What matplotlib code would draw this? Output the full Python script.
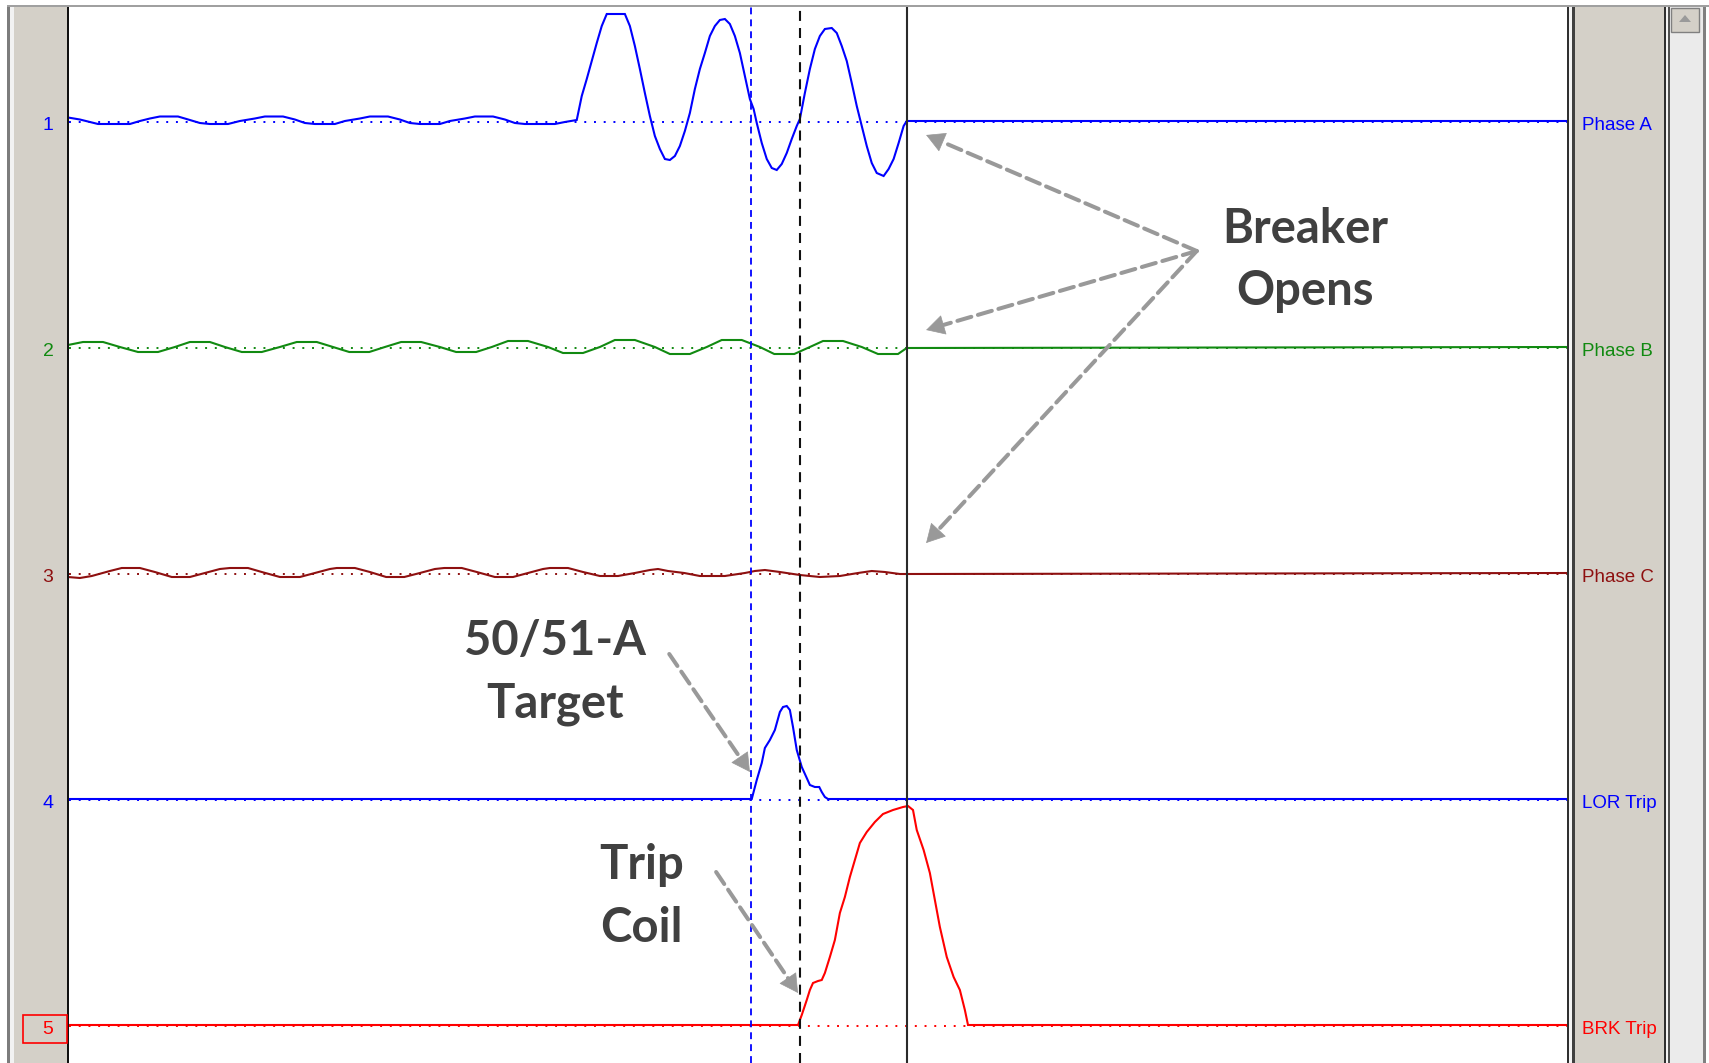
import matplotlib
matplotlib.use('Agg')
import matplotlib.pyplot as plt
from matplotlib.patches import Rectangle, Polygon
from matplotlib.transforms import blended_transform_factory

# time in ms, deflection in screen units (1 unit = 1 px of the record)
phase_a_t = [0, 1.9, 4.8, 7.4, 9.9, 11.5, 13.1, 14.7, 17.6, 19.5,
             21.1, 22.7, 25.6, 27.5, 29.9, 31.5, 34.4, 36.3, 37.9, 39.5,
             42.7, 44.3, 46.7, 48.3, 51.2, 53.1, 54.7, 56.3, 59.5, 61.1,
             63.5, 65.1, 68.0, 69.9, 71.5, 73.1, 77.9, 79.5, 81.4,
             82.2, 83.0, 83.8, 84.6, 85.4, 86.2, 89.1, 89.9, 90.7, 91.5,
             92.3, 93.1, 93.9, 94.7, 95.5, 96.3, 97.1, 97.9, 98.7, 99.5,
             100.3, 101.1, 101.9, 102.7, 103.5, 104.3, 105.1, 105.9, 106.7, 107.5,
             108.3, 109.1, 109.7, 110.2, 111.0, 111.8, 112.6, 113.4, 114.2, 115.0,
             115.8, 116.6, 117.1, 117.9, 118.7, 119.5, 120.3, 121.1, 122.2, 123.0,
             123.8, 124.6, 125.4, 126.2, 127.0, 127.8, 128.6, 129.4, 130.5, 131.3,
             132.1, 132.9, 133.7, 134.2, 240]
phase_a_v = [4.5, 2.5, -2, -2, -2, 1, 3.5, 5.5, 5.5, 2,
             -1, -2, -2, 1, 3.5, 5.5, 5.5, 2.5, -1, -2,
             -2, 1, 3.5, 5.5, 5.5, 2.5, -1, -2, -2, 1,
             3.5, 5.5, 5.5, 2.5, -1, -2, -2, 0, 2,
             26, 43, 61, 79, 96, 108, 108, 96, 76, 53,
             29, 6, -14, -27, -37, -38, -34, -24, -9, 9,
             33, 53, 69, 86, 96, 102, 103, 98, 86, 69,
             46, 23, 13, -1, -21, -37, -46, -48, -42, -31,
             -17, -4, 3, 29, 53, 73, 86, 93, 94, 89,
             76, 61, 39, 16, -4, -24, -41, -51, -54, -47,
             -37, -21, -4, 1, 1]

phase_b_t = [0, 2.4, 5.6, 8.3, 11.2, 14.4, 17.1, 19.5, 22.7, 25.1,
             27.8, 31.0, 33.9, 36.6, 39.8, 42.4, 45.0, 48.2, 50.7, 53.3,
             56.5, 59.5, 62.1, 65.3, 67.8, 70.4, 73.6, 76.8, 79.2, 82.4,
             85.1, 87.5, 90.7, 93.9, 96.3, 99.5, 102.2, 104.6, 107.8, 110.7,
             113.0, 116.2, 118.7, 120.8, 124.0, 127.0, 129.6, 132.8, 134.2, 240]
phase_b_v = [3, 6, 6, 1, -4, -4, 1, 6, 6, 1,
             -4, -4, 1, 6, 6, 1, -4, -4, 1, 6,
             6, 1, -4, -4, 1, 7, 7, 1, -5, -5,
             1, 8, 8, 1, -6, -6, 1, 8, 8, 1,
             -6, -6, 1, 7, 7, 1, -6, -6, 0, 1]

phase_c_t = [0, 1.9, 3.8, 6.7, 8.6, 11.5, 13.9, 16.6, 19.5, 21.9,
             24.3, 25.9, 28.8, 31.0, 33.9, 37.1, 39.5, 41.9, 43.0, 45.9,
             48.3, 50.9, 53.8, 56.3, 58.7, 60.2, 63.0, 65.4, 68.3, 71.2,
             73.6, 76.0, 77.1, 80.0, 82.4, 85.1, 88.0, 90.7, 93.1, 94.4,
             96.0, 98.6, 101.1, 105.1, 108.3, 109.9, 111.5, 113.9, 117.1, 120.3,
             123.5, 126.4, 128.6, 130.7, 133.1, 134.2, 240]
phase_c_v = [-3, -4, -2, 3, 6, 6, 2, -3, -3, 1,
             5, 6, 6, 2, -3, -3, 1, 5, 6, 6,
             2, -3, -3, 1, 5, 6, 6, 2, -3, -3,
             1, 5, 6, 6, 2, -2, -2, 1, 4, 5,
             3, 1, -2, -2, 1, 3, 4, 2, -1, -3,
             -2, 1, 3, 2, 0, 0, 1]

lor_t = [0, 109.4, 110.2, 111.0, 111.5, 112.3, 113.1, 113.9, 114.4, 115.0,
         115.5, 116.0, 116.6, 117.4, 118.2, 118.7, 119.5, 120.2, 120.6, 121.1,
         121.6, 240]
lor_v = [1, 1, 20, 37, 52, 60, 70, 88, 93, 94,
         90, 73, 50, 33, 22, 15, 13, 13, 8, 3,
         1, 1]

brk_t = [0, 116.8, 117.4, 118.2, 118.7, 119.2, 120.0, 120.6, 121.1, 121.9,
         122.7, 123.5, 124.3, 125.1, 125.9, 126.7, 127.8, 129.1, 130.4, 132.0,
         133.6, 134.4, 135.2, 135.8, 136.9, 137.9, 138.7, 139.5, 140.6, 141.7,
         142.7, 143.5, 144.0, 240]
brk_v = [1, 1, 11, 26, 36, 43, 45, 46, 53, 69,
         86, 113, 129, 149, 166, 183, 194, 204, 212, 216,
         219, 220, 216, 196, 176, 153, 126, 99, 69, 49,
         36, 16, 1, 1]

channel_nums = ['1', '2', '3', '4', '5']
channel_names = ['Phase A', 'Phase B', 'Phase C', 'LOR Trip', 'BRK Trip']
channel_colors = ['#0000ff', '#118a11', '#8e1010', '#0000ff', '#ff0000']
cursor_t = [109.3, 117.1, 134.2]   # 50/51 pickup, trip output, breaker open

W, H = 1709, 1063
fig = plt.figure(figsize=(W / 100, H / 100), dpi=100)
fig.patch.set_facecolor('white')


def box(x, y, w, h, fc, ec='none', lw=0, z=-1):
    # window chrome, given in screen pixels from the top left
    fig.add_artist(Rectangle((x / W, 1 - (y + h) / H), w / W, h / H,
                             transform=fig.transFigure, fc=fc, ec=ec, lw=lw, zorder=z))


# frame around the record
box(7, 5, 1702, 2, '#a0a0a0')
box(7, 7, 3, 1056, '#7c7c7c')
box(10, 7, 4, 1056, '#f2f2f2')
box(14, 7, 53, 1056, '#d4d0c8')
box(67, 7, 2, 1056, '#101010')
box(1567, 7, 2, 1056, '#303030')
box(1569, 7, 3, 1056, '#f4f4f4')
box(1572, 7, 3, 1056, '#404040')
box(1575, 7, 89, 1056, '#d4d0c8')
box(1664, 7, 2, 1056, '#303030')
box(1666, 7, 2, 1056, '#f4f4f4')
box(1668, 7, 2, 1056, '#505050')
box(1670, 7, 33, 1056, '#ebebeb')
box(1703, 7, 3, 1056, '#808080')
box(1671, 8, 28, 24, '#d4d0c8', ec='#808080', lw=1, z=-0.5)
fig.add_artist(Polygon([(1679 / W, 1 - 22 / H), (1691 / W, 1 - 22 / H), (1685 / W, 1 - 15 / H)],
                       closed=True, transform=fig.transFigure, fc='#9a9a9a', ec='none', zorder=-0.4))
box(23, 1015, 44, 28, 'none', ec='#ff0000', lw=1.2, z=-0.5)

ax = fig.add_axes([69 / W, 0, (1567 - 69) / W, (H - 7) / H])
ax.set_xlim(0.16, 239.84)
ax.set_ylim(-941, 115)
ax.set_axis_off()

spacing = 226
series_t = [phase_a_t, phase_b_t, phase_c_t, lor_t, brk_t]
series_v = [phase_a_v, phase_b_v, phase_c_v, lor_v, brk_v]

left_tr = blended_transform_factory(fig.transFigure, ax.transData)
for i in range(5):
    base = -spacing * i
    col = channel_colors[i]
    ax.axhline(base, color=col, lw=1.4, ls=(0, (1, 4)), zorder=2)
    ax.plot(series_t[i], [base + v for v in series_v[i]], color=col, lw=1.5, zorder=3,
            solid_joinstyle='miter')
    ax.text(48 / W, base - 3, channel_nums[i], transform=left_tr, color=col,
            fontsize=14, ha='center', va='center', family=['Liberation Sans', 'DejaVu Sans'])
    ax.text(1582 / W, base - 4, channel_names[i], transform=left_tr, color=col,
            fontsize=13.5, ha='left', va='center', clip_on=False,
            family=['Liberation Sans Narrow', 'DejaVu Sans Condensed', 'Liberation Sans', 'DejaVu Sans'])

# cursors
ax.axvline(cursor_t[0], color='#0000ff', lw=1.3, ls=(0, (3.8, 2.8)), zorder=4)
ax.axvline(cursor_t[1], color='#111111', lw=1.5, ls=(0, (4.8, 3.4)), zorder=4)
ax.axvline(cursor_t[2], color='#2a2a2a', lw=1.5, zorder=4)

# callouts
note = dict(color='#404040', fontsize=34, fontweight='bold', family=['Lato', 'DejaVu Sans'],
            ha='center', va='baseline', zorder=6)
ax.text(197.9, -121, 'Breaker', **note)
ax.text(197.9, -183, 'Opens', **note)
ax.text(77.9, -533, '50/51-A', **note)
ax.text(77.9, -595, 'Target', **note)
ax.text(91.8, -757, 'Trip', **note)
ax.text(91.8, -820, 'Coil', **note)


def pointer(x0, y0, x1, y1, head=17):
    # dashed shaft plus a solid head, head length in px
    p0 = ax.transData.transform((x0, y0))
    p1 = ax.transData.transform((x1, y1))
    d = p1 - p0
    n = (d[0] ** 2 + d[1] ** 2) ** 0.5
    hb = ax.transData.inverted().transform(p1 - d / n * head)
    ax.annotate('', xy=tuple(hb), xytext=(x0, y0), zorder=6, annotation_clip=False,
                arrowprops=dict(arrowstyle='-', color='#999999', lw=2.9,
                                linestyle=(0, (3.6, 1.7)), shrinkA=0, shrinkB=0))
    ax.annotate('', xy=(x1, y1), xytext=tuple(hb), zorder=6, annotation_clip=False,
                arrowprops=dict(arrowstyle='-|>,head_length=0.62,head_width=0.34',
                                mutation_scale=20, color='#999999', lw=0.5,
                                shrinkA=0, shrinkB=0))


pointer(180.6, -129, 137.3, -13)
pointer(180.6, -129, 137.3, -208)
pointer(180.6, -129, 137.3, -421)
pointer(96.2, -532, 109.1, -650)
pointer(103.7, -750, 116.8, -871)

fig.savefig('out.png', dpi=100)
